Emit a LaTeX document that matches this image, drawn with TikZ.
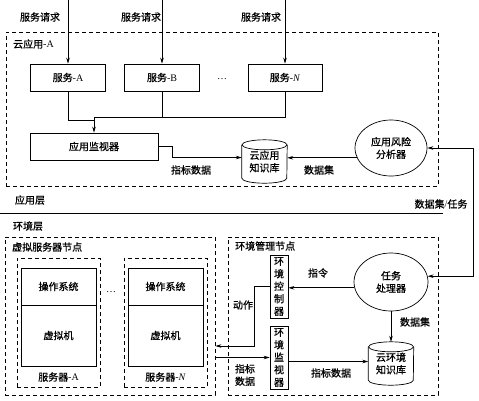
\documentclass[tikz,border=0pt]{standalone}
\usepackage{fontspec}
\setmainfont{Liberation Serif}
\newfontfamily\cjk[FakeBold=0.8]{Noto Sans CJK SC}
\usetikzlibrary{arrows.meta,shapes.geometric,calc}
\newcommand\cylout[1]{%
  \draw[line width=0.7pt] (#1.north west) -- (#1.south west)
    arc[start angle=180,end angle=360,x radius=22.5pt,y radius=5pt]
    -- (#1.north east);
  \draw[line width=0.7pt] (#1.north) ellipse[x radius=22.5pt,y radius=5pt];}
\begin{document}
\begin{tikzpicture}[x=1pt,y=-1pt,
  font=\fontsize{10}{12.5}\selectfont\cjk,
  box/.style={draw,line width=0.7pt,inner sep=0pt,align=center},
  dbox/.style={draw,dash pattern=on 4pt off 3pt,line width=0.8pt,inner sep=0pt},
  arr/.style={-{Stealth[length=6pt,width=3.5pt]},line width=0.7pt},
  darr/.style={{Stealth[length=6pt,width=3.5pt]}-{Stealth[length=6pt,width=3.5pt]},line width=0.7pt},
  plain/.style={line width=0.7pt},
  lbl/.style={inner sep=0pt,align=center},
  ell/.style={draw,ellipse,line width=0.7pt,inner sep=0pt,align=center},
  cyl/.style={inner sep=0pt,align=center,minimum width=45pt},
]
\useasboundingbox (0,0) rectangle (479,400);

% frames
\node[dbox,minimum width=432pt,minimum height=154pt] (app) at (222,109) {};
\node[dbox,minimum width=210pt,minimum height=158pt] (vnode) at (110,316) {};
\node[dbox,minimum width=210pt,minimum height=158pt] (enode) at (333,316) {};
\node[lbl,anchor=west] (appT) at (13,44) {云应用{\rmfamily -A}};
\node[lbl,anchor=west] (vnodeT) at (12,247) {虚拟服务器节点};
\node[lbl,anchor=west] (enodeT) at (235,246) {环境管理节点};

% top requests
\coordinate (cA) at (68,0);
\coordinate (cB) at (162,0);
\coordinate (cN) at (285,0);
\node[lbl] (rA) at (40,17) {服务请求};
\node[lbl] (rB) at (141,17) {服务请求};
\node[lbl] (rN) at (261,17) {服务请求};

\node[box,minimum width=75pt,minimum height=27pt] (sA) at (68,77.5) {服务{\rmfamily -A}};
\node[box,minimum width=75pt,minimum height=27pt] (sB) at (162,77.5) {服务{\rmfamily -B}};
\node[box,minimum width=74pt,minimum height=27pt] (sN) at (285,77.5) {服务{\rmfamily -\textit{N}}};
\node[lbl] (dots1) at (222,79) {{\rmfamily \ldots}};

\draw[arr] (cA) -- (sA.north);
\draw[arr] (cB) -- (sB.north);
\draw[arr] (cN) -- (sN.north);

\node[box,minimum width=128pt,minimum height=27pt] (mon) at (94,146.5) {应用监视器};
\coordinate (J) at (94,117);
\draw[plain] (sA.south) |- ([yshift=-3pt]J);
\draw[plain] (sN.south) |- (J);
\draw[plain] (sB.south) -- (sB.south |- J);
\draw[arr] (J) -- (mon.north);

\node[cyl,minimum height=33pt] (k1) at (264.5,161.5) {云应用\\知识库};
\cylout{k1}
\node[ell,minimum width=72pt,minimum height=56pt] (ra) at (391,148) {应用风险\\分析器};

\draw[arr] (mon.east) -- ++(14,0) |- ([yshift=4pt]k1.west);
\node[lbl] (l1) at (191,170) {指标数据};
\draw[arr] (ra.196) -- (ra.196 -| k1.east);
\node[lbl] (l2) at (319,170) {数据集};

% layer separator
\coordinate (sepL) at (0,213);
\coordinate (sepR) at (443,213);
\draw[line width=0.8pt] (sepL) -- (sepR);
\node[lbl] (layA) at (30,200) {应用层};
\node[lbl] (layE) at (28,226) {环境层};
\node[lbl] (dsT) at (441,204) {数据集{\rmfamily /}任务};

% virtual servers
\node[dbox,minimum width=83pt,minimum height=129pt] (srvA) at (58.5,322.5) {};
\node[dbox,minimum width=83pt,minimum height=129pt] (srvN) at (165.5,322.5) {};
\node[box,minimum width=75pt,minimum height=37pt] (osA) at (58.5,286.5) {操作系统};
\node[box,minimum width=75pt,minimum height=61pt] (vmA) at (58.5,335.5) {虚拟机};
\node[box,minimum width=75pt,minimum height=37pt] (osN) at (165.5,286.5) {操作系统};
\node[box,minimum width=75pt,minimum height=61pt] (vmN) at (165.5,335.5) {虚拟机};
\node[lbl] (nA) at (58.5,377) {服务器{\rmfamily -A}};
\node[lbl] (nN) at (165.5,377) {服务器{\rmfamily -\textit{N}}};
\node[lbl] (dots2) at (111,292) {{\rmfamily \ldots}};

% environment management
\node[box,minimum width=18pt,minimum height=63pt] (ctrl) at (279,286.5) {环\\境\\控\\制\\器};
\node[box,minimum width=18pt,minimum height=63pt] (emon) at (279,357.5) {环\\境\\监\\视\\器};
\node[ell,minimum width=74pt,minimum height=58pt] (tp) at (391,282) {任务\\处理器};
\node[cyl,minimum height=33pt] (k2) at (391,363.5) {云环境\\知识库};
\cylout{k2}

\coordinate (R) at (473,148);
\draw[darr] (ra.east) -- (ra.east -| R) |- (tp.9);

\draw[arr] (tp.189) -- (tp.189 -| ctrl.east);
\node[lbl] (l3) at (318,273) {指令};
\draw[arr] (ctrl.west) -- ++(-15,0) |- ([yshift=-30pt]vnode.east);
\node[lbl] (l4) at (243,305) {动作};
\draw[arr] (vnode.east |- emon) -- (emon.west);
\node[lbl] (l5) at (245,375) {指标\\数据};
\draw[arr] ([yshift=2pt]emon.east |- k2) -- ([yshift=2pt]k2.west);
\node[lbl] (l6) at (331,373) {指标数据};
\draw[arr] (tp.south) -- ([yshift=5pt]k2.north);
\node[lbl] (l7) at (415,322) {数据集};
\end{tikzpicture}
\end{document}
